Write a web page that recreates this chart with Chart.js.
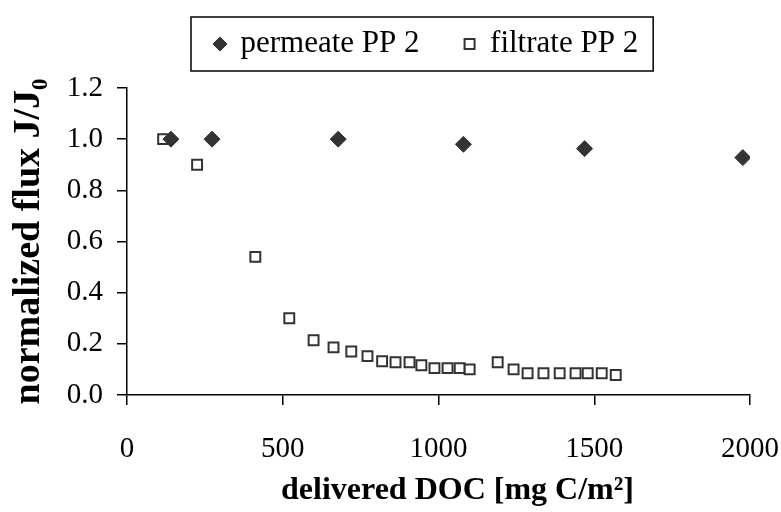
<!DOCTYPE html>
<html>
<head>
<meta charset="utf-8">
<script src="https://cdn.jsdelivr.net/npm/chart.js@4.4.0/dist/chart.umd.min.js"></script>
<style>
    html, body { margin: 0; padding: 0; background: #fff; }
</style>
</head>
<body>
<canvas id="fluxChart" width="781" height="512"></canvas>
<script>
// series labels
const permeateLabel = "permeate PP 2";
const filtrateLabel = "filtrate PP 2";

// permeate PP 2: delivered DOC [mg C/m²] and normalized flux J/J0
const permeateDOC = [141, 273, 678, 1080, 1469, 1977];
const permeateFlux = [1.00, 1.00, 1.00, 0.98, 0.963, 0.928];

// filtrate PP 2: delivered DOC [mg C/m²] and normalized flux J/J0
const filtrateDOC = [116, 225, 412, 521, 599, 663, 720, 772, 819, 862, 907, 945, 987,
    1029, 1068, 1100, 1190, 1241, 1286, 1337, 1389, 1440, 1479, 1524, 1569];
const filtrateFlux = [1.00, 0.90, 0.54, 0.30, 0.214, 0.186, 0.17, 0.152, 0.132, 0.128, 0.128, 0.116, 0.105,
    0.105, 0.105, 0.10, 0.128, 0.10, 0.085, 0.085, 0.085, 0.085, 0.085, 0.085, 0.078];

// axis ticks
const xTicks = [0, 500, 1000, 1500, 2000];
const yTicks = [0, 0.2, 0.4, 0.6, 0.8, 1.0, 1.2];

// axis titles
const xTitle = "delivered DOC [mg C/m²]";
const yTitle = "normalized flux J/J₀";

const serif = '"Liberation Serif", "Times New Roman", serif';
Chart.defaults.font.family = serif;
Chart.defaults.color = '#000';

// return [{x, y}] from two arrays
function toPoints (xs, ys) {
    return xs.map((x, i) => { return {x: x, y: ys[i]}; }); }

// where the legend sits, and the x title's offset from the plot centre
const legendFirstLeft = 215;
const legendMiddle = 44;
const xTitleShift = 19;

// move the legend off-centre like the reference, frame it, nudge the x title
const legendFrame = {
    id: 'legendFrame',
    afterLayout (chart) {
        const xs = chart.scales.x;
        if (xs.shiftedTitle) { return; }
        const drawTitle = xs.drawTitle.bind(xs);
        xs.drawTitle = function () {
            chart.ctx.save();
            chart.ctx.translate(xTitleShift, 0);
            drawTitle();
            chart.ctx.restore(); };
        xs.shiftedTitle = true;
    },
    afterUpdate (chart) {
        const legend = chart.legend;
        const boxes = legend.legendHitBoxes;
        if (!boxes || !boxes.length) { return; }
        const dx = legendFirstLeft - boxes[0].left;
        const dy = legendMiddle - (boxes[0].top + boxes[0].height / 2);
        legend.left += dx; legend.right += dx;
        legend.top += dy; legend.bottom += dy;
        boxes.forEach((b) => { b.left += dx; b.top += dy; });
    },
    afterDraw (chart) {
        const boxes = chart.legend.legendHitBoxes;
        const last = boxes[boxes.length - 1];
        const left = boxes[0].left - 24;
        const right = last.left + last.width + 15;
        const ctx = chart.ctx;
        ctx.save();
        ctx.strokeStyle = '#000';
        ctx.lineWidth = 1.5;
        ctx.strokeRect(left, legendMiddle - 27, right - left, 54);
        ctx.restore();
    }
};

const fluxChart = new Chart("fluxChart", {
    type: 'scatter',
    data: {
        datasets: [
            { label: permeateLabel, data: toPoints(permeateDOC, permeateFlux),
                pointStyle: 'rectRot', pointRadius: 8, pointHoverRadius: 8,
                backgroundColor: '#333', borderColor: '#333', borderWidth: 1 },
            { label: filtrateLabel, data: toPoints(filtrateDOC, filtrateFlux),
                pointStyle: 'rect', pointRadius: 7, pointHoverRadius: 7,
                backgroundColor: '#fff', borderColor: '#333', borderWidth: 2 } ]
    },
    options: {
        responsive: false,
        animation: false,
        layout: { padding: { top: 2, right: 0, bottom: 0, left: 0 } },
        plugins: {
            tooltip: { enabled: false },
            legend: {
                display: true,
                position: 'top',
                labels: { usePointStyle: true, boxWidth: 10, boxHeight: 10, padding: 45,
                    color: '#000', font: { size: 31 } }
            }
        },
        scales: {
            x: {
                type: 'linear', min: xTicks[0], max: xTicks[xTicks.length - 1],
                afterFit: (scale) => { scale.height = 117; scale.paddingLeft = 0; scale.paddingRight = 31; },
                afterBuildTicks: (scale) => { scale.ticks = xTicks.map((v) => { return {value: v}; }); },
                grid: { display: true, drawOnChartArea: false, drawTicks: true, tickLength: 10,
                    color: '#000', lineWidth: 1.5 },
                border: { display: true, color: '#000', width: 1.5 },
                ticks: { padding: 27, font: { size: 29 }, callback: (v) => String(v) },
                title: { display: true, text: xTitle, padding: { top: 0, bottom: 2 },
                    font: { size: 32, weight: 'bold' } }
            },
            y: {
                type: 'linear', min: yTicks[0], max: yTicks[yTicks.length - 1],
                afterFit: (scale) => { scale.width = 127; },
                afterBuildTicks: (scale) => { scale.ticks = yTicks.map((v) => { return {value: v}; }); },
                grid: { display: true, drawOnChartArea: false, drawTicks: true, tickLength: 10,
                    color: '#000', lineWidth: 1.5 },
                border: { display: true, color: '#000', width: 1.5 },
                ticks: { padding: 14, font: { size: 29 }, callback: (v) => v.toFixed(1) },
                title: { display: true, text: yTitle, padding: { top: 6, bottom: 0 },
                    font: { size: 38, weight: 'bold' } }
            }
        }
    },
    plugins: [legendFrame]
});
</script>
</body>
</html>
